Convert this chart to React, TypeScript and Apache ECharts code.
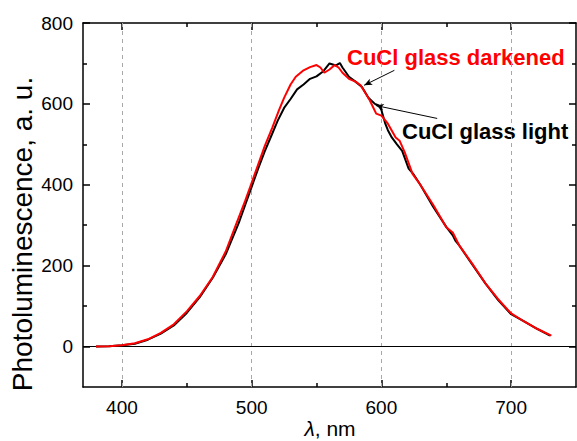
import React, { useEffect, useRef } from "react";
import * as echarts from "echarts";

const lightX = [380, 390, 400, 410, 420, 430, 440, 450, 460, 470, 480, 490, 495, 500, 505, 510, 515, 520, 525, 530, 535, 540, 545, 550, 555, 560, 565, 568, 570, 575, 580, 585, 590, 595, 598, 600, 603, 605, 608, 612, 616, 621, 625, 630, 640, 650, 655, 657, 660, 670, 680, 690, 700, 710, 720, 730];
const lightY = [0, 1, 3, 7, 17, 32, 52, 83, 122, 170, 228, 305, 350, 395, 440, 482, 520, 558, 590, 612, 636, 648, 662, 668, 680, 700, 695, 701, 690, 667, 655, 642, 615, 600, 596, 585, 551, 535, 517, 500, 484, 440, 425, 400, 345, 296, 275, 262, 250, 203, 157, 115, 80, 62, 44, 27];

const darkX = [380, 390, 400, 410, 420, 430, 440, 450, 460, 470, 480, 488, 495, 500, 505, 510, 516, 521, 525, 530, 534, 540, 545, 550, 553, 556, 560, 564, 567, 570, 575, 580, 584, 588, 591, 596, 600, 605, 611, 614, 618, 624, 630, 640, 650, 655, 660, 670, 680, 690, 700, 710, 720, 731];
const darkY = [0, 1, 3, 8, 18, 34, 55, 87, 125, 172, 235, 302, 360, 405, 450, 495, 542, 584, 615, 648, 667, 683, 691, 696, 690, 677, 685, 696, 690, 677, 662, 655, 646, 625, 609, 576, 571, 551, 517, 509, 480, 427, 400, 350, 295, 282, 250, 205, 157, 117, 82, 62, 44, 27];

const xMajor = [400, 500, 600, 700];
const xMinor = [450, 550, 650];
const yMajor = [0, 200, 400, 600, 800];
const yMinor = [100, 300, 500, 700];
const xRange = [370, 750];
const yRange = [-100, 800];

const darkArrow = [[610, 683], [586.7, 646]];
const lightArrow = [[643, 564], [595.7, 596]];

const FONT = "'Liberation Sans', Arial, Helvetica, sans-serif";

function xAx(position: string, ticks: number[], len: number, showLine: boolean, showLabel: boolean) {
  return {
    type: "value",
    position,
    min: xRange[0],
    max: xRange[1],
    axisLine: { show: showLine, onZero: false, lineStyle: { color: "#000", width: 1.5 } },
    axisTick: { show: true, inside: true, length: len, customValues: ticks, lineStyle: { color: "#000", width: 1.5 } },
    axisLabel: { show: showLabel, customValues: ticks, color: "#000", fontSize: 19, fontFamily: FONT, margin: 11 },
    splitLine: { show: false },
  };
}
function yAx(position: string, ticks: number[], len: number, showLine: boolean, showLabel: boolean) {
  return {
    type: "value",
    position,
    min: yRange[0],
    max: yRange[1],
    axisLine: { show: showLine, onZero: false, lineStyle: { color: "#000", width: 1.5 } },
    axisTick: { show: true, inside: true, length: len, customValues: ticks, lineStyle: { color: "#000", width: 1.5 } },
    axisLabel: { show: showLabel, customValues: ticks, color: "#000", fontSize: 19, fontFamily: FONT, margin: 10 },
    splitLine: { show: false },
  };
}

export default function App() {
  const ref = useRef<HTMLDivElement>(null);
  useEffect(() => {
    if (!ref.current) return;
    const chart = echarts.init(ref.current, undefined, { renderer: "svg" });
    const arrowLine = (a: number[][]) => [
      { coord: a[0], lineStyle: { color: "#000", width: 1, type: "solid" } },
      { coord: a[1] },
    ];
    chart.setOption({
      animation: false,
      backgroundColor: "#fff",
      grid: { left: 83, top: 23, right: 1, bottom: 54 },
      xAxis: [
        xAx("bottom", xMajor, 7, true, true),
        xAx("bottom", xMinor, 4, false, false),
        xAx("top", xMajor, 7, true, false),
        xAx("top", xMinor, 4, false, false),
      ],
      yAxis: [
        yAx("left", yMajor, 7, true, true),
        yAx("left", yMinor, 4, false, false),
        yAx("right", yMajor, 7, true, false),
        yAx("right", yMinor, 4, false, false),
      ],
      series: [
        {
          name: "CuCl glass light",
          type: "line",
          showSymbol: false,
          data: lightX.map((x, i) => [x, lightY[i]]),
          lineStyle: { color: "#000", width: 2 },
          itemStyle: { color: "#000" },
          z: 3,
          markLine: {
            silent: true,
            symbol: ["none", "none"],
            label: { show: false },
            z: 1,
            data: [
              ...xMajor.map((v) => ({ xAxis: v, lineStyle: { type: [4, 4], color: "#a8a8a8", width: 1 } })),
              { yAxis: 0, lineStyle: { type: "solid", color: "#000", width: 1.2 } },
            ],
          },
        },
        {
          name: "CuCl glass darkened",
          type: "line",
          showSymbol: false,
          data: darkX.map((x, i) => [x, darkY[i]]),
          lineStyle: { color: "#ff0000", width: 2 },
          itemStyle: { color: "#ff0000" },
          z: 4,
          markLine: {
            silent: true,
            symbol: ["none", "arrow"],
            symbolSize: [5, 8],
            label: { show: false },
            itemStyle: { color: "#000" },
            data: [arrowLine(darkArrow), arrowLine(lightArrow)],
          },
        },
      ],
      graphic: [
        {
          type: "text",
          left: 347,
          top: 46,
          style: { text: "CuCl glass darkened", fill: "#ff0000", font: `bold 22px ${FONT}` },
        },
        {
          type: "text",
          left: 402,
          top: 120,
          style: { text: "CuCl glass light", fill: "#000", font: `bold 22px ${FONT}` },
        },
        {
          type: "text",
          x: 22,
          y: 234,
          rotation: Math.PI / 2,
          style: {
            text: "Photoluminescence, a. u.",
            fill: "#000",
            font: `28px ${FONT}`,
            align: "center",
            verticalAlign: "middle",
          },
        },
        {
          type: "text",
          x: 330,
          y: 428,
          style: {
            text: "{i|λ}, nm",
            fill: "#000",
            font: `21px ${FONT}`,
            align: "center",
            verticalAlign: "middle",
            rich: { i: { fontStyle: "italic", fontSize: 21, fontFamily: FONT, fill: "#000" } },
          },
        },
      ],
    });
    return () => chart.dispose();
  }, []);
  return <div ref={ref} style={{ position: "fixed", left: 0, top: 0, width: 577, height: 441 }} />;
}
